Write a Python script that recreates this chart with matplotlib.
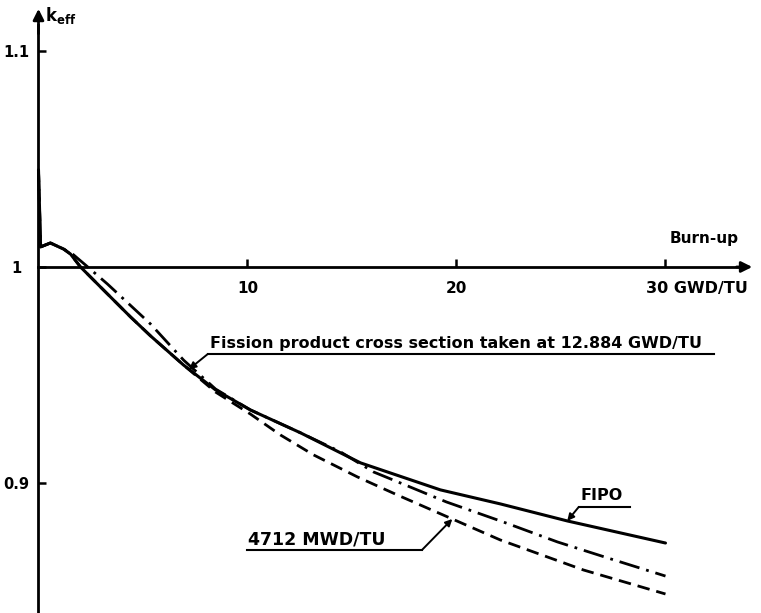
import numpy as np
import matplotlib
matplotlib.use("Agg")
from matplotlib import pyplot as plt

# burn-up (GWD/TU) and k_eff
fipo_x = [0, 0.1, 0.57, 1.2, 1.53, 2.01, 2.97, 4.4, 5.36, 6.94, 8.47, 10.14,
          12.54, 15.41, 19.23, 22.1, 25.31, 30.0]
fipo_k = [1.045, 1.0093, 1.0111, 1.0083, 1.006, 1.0, 0.9907, 0.9769, 0.9681,
          0.9546, 0.9431, 0.9338, 0.9232, 0.9093, 0.8968, 0.8903, 0.8824, 0.8722]

# fission product cross section taken at 12.884 GWD/TU (dash-dot)
fp_x = [0, 0.1, 0.57, 1.2, 1.63, 2.25, 3.3, 5.36, 6.94, 8.47, 10.14, 12.54,
        14.45, 16.03, 16.84, 19.52, 22.25, 24.83, 27.23, 30.0]
fp_k = [1.045, 1.0093, 1.0111, 1.0083, 1.006, 1.0009, 0.9921, 0.9736, 0.9569,
        0.9435, 0.9338, 0.9232, 0.9144, 0.9051, 0.9019, 0.8912, 0.8819, 0.8727,
        0.8653, 0.8569]

# 4712 MWD/TU (dashed)
mwd_x = [0, 0.1, 0.57, 1.2, 1.53, 2.01, 2.97, 4.4, 5.36, 6.94, 8.47, 10.14,
         11.58, 13.16, 15.26, 17.18, 19.57, 22.1, 26.08, 30.0]
mwd_k = [1.045, 1.0093, 1.0111, 1.0083, 1.006, 1.0, 0.9907, 0.9769, 0.9681,
         0.9546, 0.9421, 0.9319, 0.9222, 0.913, 0.9028, 0.8944, 0.8843, 0.8736,
         0.8597, 0.8486]

x_ticks = [10, 20, 30]
x_labels = ["10", "20", ""]
y_ticks = [0.9, 1.0, 1.1]
y_labels = ["0.9", "1", "1.1"]

plt.rcParams["font.family"] = "DejaVu Sans"
plt.rcParams["font.weight"] = "bold"
FS = 11

fig = plt.figure(figsize=(7.61, 6.13), dpi=100)
ax = fig.add_axes([0, 0, 1, 1])
ax.set_xlim(-1.842, 34.57)
ax.set_ylim(0.8398, 1.1236)

ax.plot(fipo_x, fipo_k, color="k", lw=2.2, solid_capstyle="round")
ax.plot(fp_x, fp_k, color="k", lw=2.0, dashes=(7.5, 2.5, 1, 2.5))
ax.plot(mwd_x, mwd_k, color="k", lw=2.0, dashes=(4.5, 2.5))

# axes drawn as crossing lines with arrow heads
for s in ["top", "right"]:
    ax.spines[s].set_visible(False)
ax.spines["left"].set_position(("data", 0))
ax.spines["bottom"].set_position(("data", 1))
ax.spines["left"].set_bounds(0.8398, 1.112)
ax.spines["bottom"].set_bounds(0, 33.6)
for s in ["left", "bottom"]:
    ax.spines[s].set_linewidth(2)
arrow = dict(arrowstyle="-|>", color="k", lw=2, mutation_scale=16,
             shrinkA=0, shrinkB=0)
ax.annotate("", xy=(34.15, 1), xytext=(33.4, 1), arrowprops=arrow)
ax.annotate("", xy=(0, 1.1195), xytext=(0, 1.108), arrowprops=arrow)

ax.set_xticks(x_ticks)
ax.set_xticklabels(x_labels)
ax.tick_params(axis="x", direction="in", length=6, width=1.8, pad=10,
               labelsize=FS)
ax.set_yticks(y_ticks)
ax.set_yticklabels(y_labels)
ax.tick_params(axis="y", direction="in", length=6, width=1.8, pad=16,
               labelsize=FS - 0.5)
for lab in ax.get_yticklabels():
    lab.set_ha("center")

ax.annotate("30 GWD/TU", xy=(30, 1), xytext=(-19, -14),
            textcoords="offset pixels", ha="left", va="top", fontsize=11.5)
ax.text(31.84, 1.0134, "Burn-up", ha="center", va="center", fontsize=FS)
ax.text(0.31, 1.1162, r"$\mathbf{k_{eff}}$", ha="left", va="center",
        fontsize=12)

# labels with underline and leader arrow to the curve
lead = dict(arrowstyle="-|>", color="k", lw=1.4, mutation_scale=10,
            shrinkA=0, shrinkB=0)

ax.text(8.2, 0.9645, "Fission product cross section taken at 12.884 GWD/TU",
        ha="left", va="center", fontsize=11.5)
ax.plot([8.1, 32.3], [0.9597, 0.9597], color="k", lw=1.5)
tip = 7.2
ax.annotate("", xy=(tip, np.interp(tip, fipo_x, fipo_k)),
            xytext=(8.1, 0.9597), arrowprops=lead)

ax.text(25.91, 0.8944, "FIPO", ha="left", va="center", fontsize=11.5)
ax.plot([25.85, 28.3], [0.8889, 0.8889], color="k", lw=1.5)
tip = 25.3
ax.annotate("", xy=(tip, np.interp(tip, fipo_x, fipo_k)),
            xytext=(25.85, 0.8889), arrowprops=lead)

ax.text(10.02, 0.8736, "4712 MWD/TU", ha="left", va="center", fontsize=12.5)
ax.plot([10.0, 18.35], [0.869, 0.869], color="k", lw=1.5)
tip = 19.8
ax.annotate("", xy=(tip, np.interp(tip, mwd_x, mwd_k)),
            xytext=(18.35, 0.869), arrowprops=lead)

fig.savefig("out.png", dpi=100)
